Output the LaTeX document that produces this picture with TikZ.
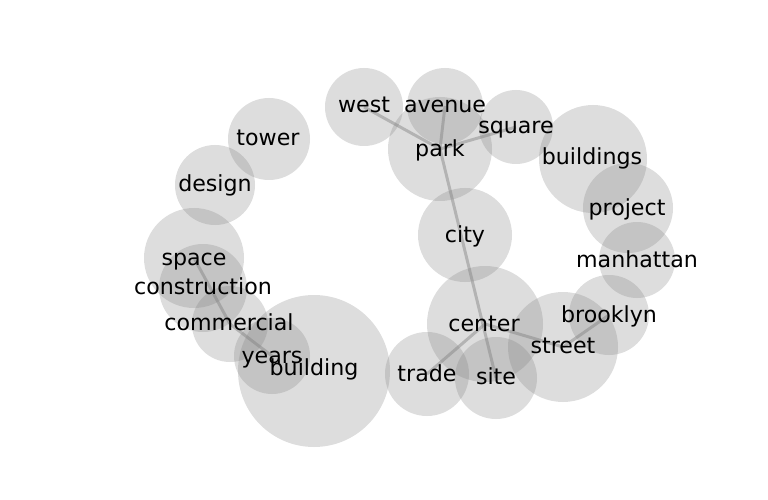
\documentclass[tikz,border=0pt]{standalone}
\usepackage{fontspec}
\setmainfont{DejaVu Sans}
\begin{document}
\begin{tikzpicture}[x=0.02cm, y=-0.02cm,
  bubble/.style={fill=gray, fill opacity=0.27},
  edge/.style={draw=gray, line width=1.7pt, opacity=0.45},
  word/.style={font=\fontsize{12.6}{15}\selectfont, inner sep=0pt, anchor=base}]
\useasboundingbox (0,0) rectangle (768,500);
% bubble centres
\coordinate (west) at (364,107);
\coordinate (avenue) at (445,106);
\coordinate (park) at (440,149);
\coordinate (square) at (516,127);
\coordinate (buildings) at (593,159);
\coordinate (project) at (628,208);
\coordinate (manhattan) at (637,260);
\coordinate (brooklyn) at (609,315);
\coordinate (street) at (563,347);
\coordinate (center) at (485,324);
\coordinate (site) at (496,378);
\coordinate (trade) at (427,374);
\coordinate (city) at (465,235);
\coordinate (building) at (314,371);
\coordinate (years) at (272,356);
\coordinate (commercial) at (230,324);
\coordinate (construction) at (203,288);
\coordinate (space) at (194,258);
\coordinate (design) at (215,185);
\coordinate (tower) at (269,139);
% bubbles
\foreach \w/\r in {west/39, avenue/38, park/52, square/37, buildings/54,
  project/45, manhattan/38, brooklyn/40, street/55, center/58, site/41,
  trade/42, city/47, building/76, years/38, commercial/38,
  construction/44, space/50, design/40, tower/41}
  \fill[bubble] (\w) circle (\r);
% links
\draw[edge] (west) -- (park);
\draw[edge] (avenue) -- (park);
\draw[edge] (square) -- (park);
\draw[edge] (park) -- (site);
\draw[edge] (center) -- (trade);
\draw[edge] (center) -- (street);
\draw[edge] (street) -- (brooklyn);
\draw[edge] (space) -- (commercial);
\draw[edge] (commercial) -- (years);
% words (x at the centre, y at the baseline)
\foreach \w/\x/\y in {west/364/113, avenue/445/113, park/440/156,
  square/516/133, buildings/592/165, project/627/215, manhattan/637/267,
  brooklyn/609/322, street/563/353, center/484/331, site/496/384,
  trade/427/381, city/465/242, building/314/375, years/272/363,
  commercial/229/330, construction/203/295, space/194/265,
  design/215/192, tower/268/146}
  \node[word] (\w-t) at (\x,\y) {\w};
\end{tikzpicture}
\end{document}
